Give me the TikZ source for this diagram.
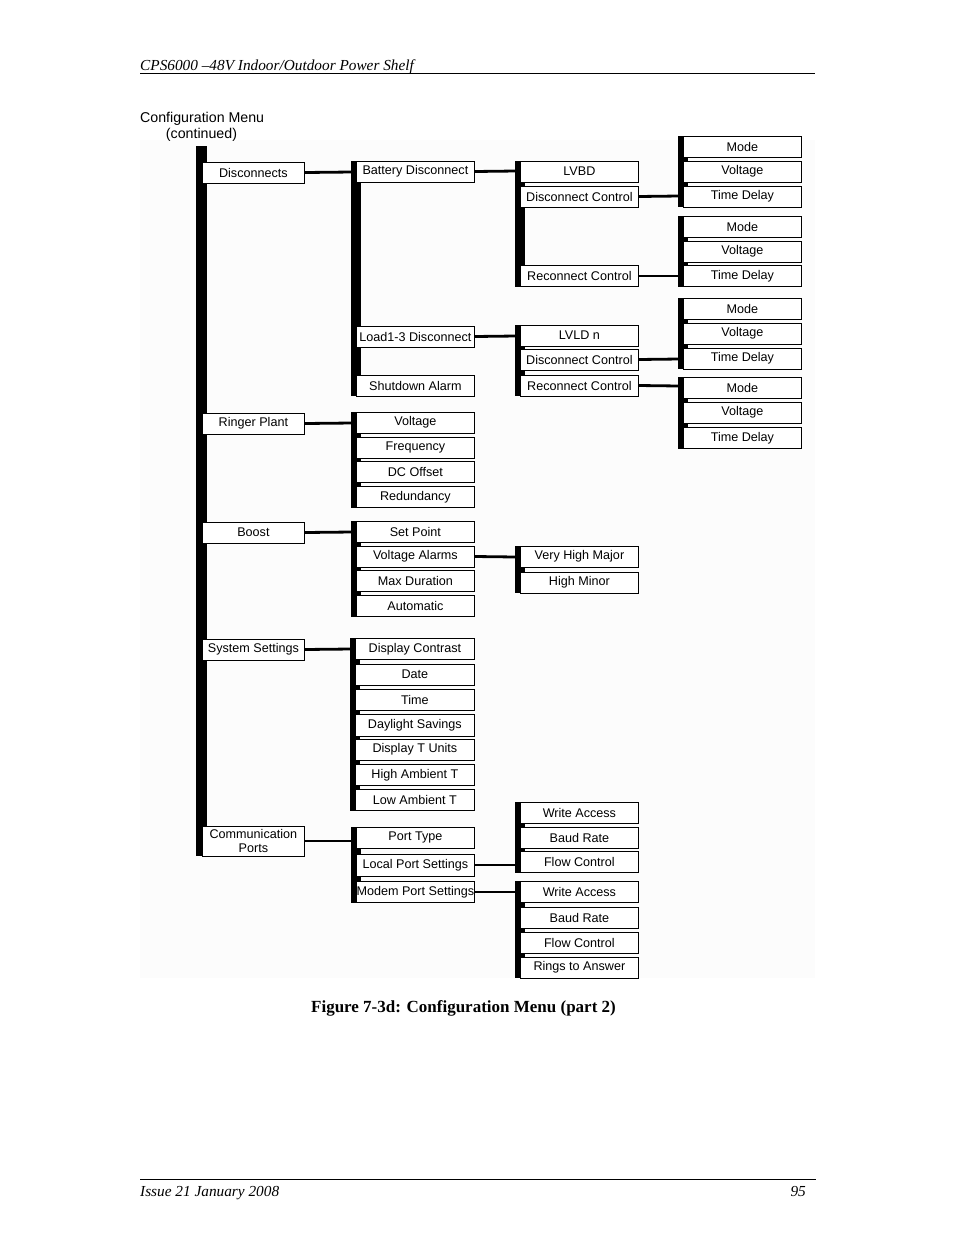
\documentclass[tikz,border=0pt]{standalone}
\usepackage{fontspec}
\setmainfont{Liberation Serif}
\newfontfamily\arial{Liberation Sans}
\begin{document}
\begin{tikzpicture}[x=1pt,y=-1pt,
  bx/.style={draw=black, line width=0.8pt, fill=white, minimum height=21pt, inner sep=0pt, anchor=west, font=\arial\fontsize{12.6}{13.5}\selectfont, align=center},
  wa/.style={bx, minimum width=102pt},
  wb/.style={bx, minimum width=118pt},
  bar/.style={fill=black},
  conn/.style={line width=2.8pt}]
\useasboundingbox (0,0) rectangle (954,1235);
\fill[white] (0,0) rectangle (954,1235);
\fill[black!1] (140,140) rectangle (815,978);
% header and footer
\node[anchor=base west, inner sep=0, font=\itshape\fontsize{15.3}{17}\selectfont] (hdr) at (140,70) {CPS6000 –48V Indoor/Outdoor Power Shelf};
\draw[line width=0.8pt] (140,73.5) -- (815,73.5);
\draw[line width=0.8pt] (140,1179) -- (816,1179);
\node[anchor=base west, inner sep=0, font=\itshape\fontsize{15.3}{17}\selectfont] (ftl) at (140,1196) {Issue 21 January 2008};
\node[anchor=base east, inner sep=0, font=\itshape\fontsize{15.3}{17}\selectfont] (ftr) at (806,1196) {95};
\node[anchor=base, inner sep=0, font=\bfseries\fontsize{17}{19}\selectfont] (cap) at (463.5,1012) {Figure 7-3d: Configuration Menu (part 2)};
% title
\node[anchor=base west, inner sep=0, font=\arial\fontsize{14.2}{15}\selectfont] (t1) at (140,122) {Configuration Menu};
\node[anchor=base, inner sep=0, font=\arial\fontsize{14.2}{15}\selectfont] (t2) at (201.5,138) {(continued)};
% bars
\fill[bar] (196,146) rectangle (207,856);
\fill[bar] (351,161) rectangle (361,396);
\fill[bar] (351,412) rectangle (361,508);
\fill[bar] (351,521) rectangle (361,617);
\fill[bar] (350,638) rectangle (360,811);
\fill[bar] (351,827) rectangle (361,903);
\fill[bar] (515,161) rectangle (525,287);
\fill[bar] (515,325) rectangle (525,396);
\fill[bar] (515,546) rectangle (525,593);
\fill[bar] (515,802) rectangle (525,873);
\fill[bar] (515,881) rectangle (525,978);
\fill[bar] (678,136) rectangle (688,207);
\fill[bar] (678,216) rectangle (688,287);
\fill[bar] (678,298) rectangle (688,369);
\fill[bar] (678,377) rectangle (688,449);
% bar connection points
\coordinate (b2a) at (352,172);
\coordinate (b2b) at (352,423);
\coordinate (b2c) at (352,532);
\coordinate (b2d) at (351,649);
\coordinate (b2e) at (352,841);
\coordinate (b3a) at (516,171);
\coordinate (b3b) at (516,336);
\coordinate (b3c) at (516,557);
\coordinate (b3d) at (516,865);
\coordinate (b3e) at (516,892);
\coordinate (b4a) at (679,196);
\coordinate (b4b) at (679,276);
\coordinate (b4c) at (679,359);
\coordinate (b4d) at (679,386);
% level 1
\node[wa] (disc) at (202,172.5) {Disconnects};
\node[wa] (ring) at (202,423.5) {Ringer Plant};
\node[wa] (boost) at (202,532.5) {Boost};
\node[wa] (sys) at (202,649.5) {System Settings};
\node[wa, minimum height=30pt, font=\arial\fontsize{12.6}{14}\selectfont] (comm) at (202,841) {Communication\\Ports};
% level 2
\node[wb] (batt) at (356,171.5) {Battery Disconnect};
\node[wb] (load) at (356,336.5) {Load1-3 Disconnect};
\node[wb] (shut) at (356,385.5) {Shutdown Alarm};
\node[wb] (rv) at (356,422.5) {Voltage};
\node[wb] (rf) at (356,447.5) {Frequency};
\node[wb] (rdc) at (356,472) {DC Offset};
\node[wb] (rr) at (356,497) {Redundancy};
\node[wb] (bsp) at (356,531.5) {Set Point};
\node[wb] (bva) at (356,556.5) {Voltage Alarms};
\node[wb] (bmd) at (356,581) {Max Duration};
\node[wb] (bau) at (356,605.5) {Automatic};
\node[wb, minimum width=119pt] (sdc) at (355,649) {Display Contrast};
\node[wb, minimum width=119pt] (sda) at (355,674.5) {Date};
\node[wb, minimum width=119pt] (sti) at (355,699.5) {Time};
\node[wb, minimum width=119pt, minimum height=22pt] (sdl) at (355,725.5) {Daylight Savings};
\node[wb, minimum width=119pt] (stu) at (355,749.5) {Display T Units};
\node[wb, minimum width=119pt] (sha) at (355,775) {High Ambient T};
\node[wb, minimum width=119pt] (sla) at (355,799.5) {Low Ambient T};
\node[wb] (cpt) at (356,837.5) {Port Type};
\node[wb, minimum height=22pt] (clp) at (356,865) {Local Port Settings};
\node[wb] (cmp) at (356,892) {Modem Port Settings};
% level 3
\node[wb] (lvbd) at (520,171.5) {LVBD};
\node[wb] (dc1) at (520,196.5) {Disconnect Control};
\node[wb] (rc1) at (520,276) {Reconnect Control};
\node[wb] (lvld) at (520,335.5) {LVLD n};
\node[wb] (dc2) at (520,359.5) {Disconnect Control};
\node[wb] (rc2) at (520,385.5) {Reconnect Control};
\node[wb] (vhm) at (520,556.5) {Very High Major};
\node[wb] (hmi) at (520,582.5) {High Minor};
\node[wb] (lwa) at (520,812.5) {Write Access};
\node[wb] (lbr) at (520,837.5) {Baud Rate};
\node[wb] (lfc) at (520,862) {Flow Control};
\node[wb] (mwa) at (520,892) {Write Access};
\node[wb] (mbr) at (520,917.5) {Baud Rate};
\node[wb] (mfc) at (520,942.5) {Flow Control};
\node[wb] (mra) at (520,967.5) {Rings to Answer};
% level 4
\node[wb] (m1) at (683,146.5) {Mode};
\node[wb] (v1) at (683,171.5) {Voltage};
\node[wb] (t1d) at (683,196.5) {Time Delay};
\node[wb] (m2) at (683,226.5) {Mode};
\node[wb] (v2) at (683,251.5) {Voltage};
\node[wb] (t2d) at (683,276) {Time Delay};
\node[wb] (m3) at (683,308.5) {Mode};
\node[wb] (v3) at (683,333.5) {Voltage};
\node[wb] (t3d) at (683,358.5) {Time Delay};
\node[wb] (m4) at (683,387.5) {Mode};
\node[wb] (v4) at (683,412.5) {Voltage};
\node[wb] (t4d) at (683,438) {Time Delay};
% connectors
\draw[conn] (disc.east) -- (b2a);
\draw[conn] (ring.east) -- (b2b);
\draw[conn] (boost.east) -- (b2c);
\draw[conn] (sys.east) -- (b2d);
\draw[conn] (comm.east) -- (b2e);
\draw[conn] (batt.east) -- (b3a);
\draw[conn] (load.east) -- (b3b);
\draw[conn] (bva.east) -- (b3c);
\draw[conn] (clp.east) -- (b3d);
\draw[conn] (cmp.east) -- (b3e);
\draw[conn] (dc1.east) -- (b4a);
\draw[conn] (rc1.east) -- (b4b);
\draw[conn] (dc2.east) -- (b4c);
\draw[conn] (rc2.east) -- (b4d);
\end{tikzpicture}
\end{document}
